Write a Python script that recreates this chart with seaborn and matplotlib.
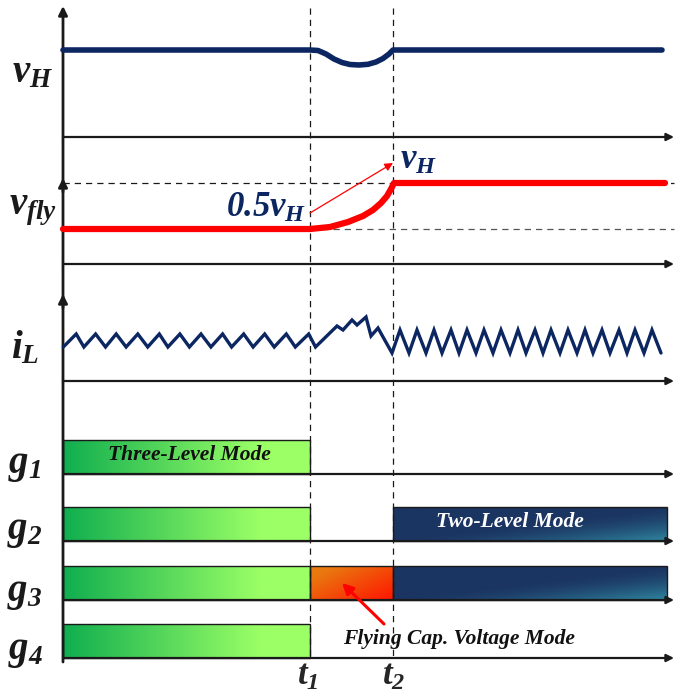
import numpy as np
import matplotlib
matplotlib.use("Agg")
import matplotlib.pyplot as plt
import seaborn as sns
import pandas as pd
from matplotlib.patches import Rectangle
from matplotlib.colors import to_rgb

# ---------------- data (diagram units) ----------------
t_origin = 63
t1, t2 = 310, 393
axis_end = 674
axis_top = 6

vh_t = [63, 310, 318, 326, 334, 342, 350, 359, 368, 376, 383, 389, 393, 662]
vh_v = [50, 50, 50.5, 54, 59, 62.5, 64.5, 65, 64.3, 62, 58.5, 54, 50, 50]

vfly_t = [63, 310, 330, 348, 363, 373, 381, 387, 391, 394, 665]
vfly_v = [229, 229, 227, 222, 216, 210, 203, 196, 189, 183, 183]
vfly_full, vfly_half = 183, 229

il_t = [63.3, 76.2, 83.9, 95.6, 105.5, 116.2, 126.1, 137.8, 147.7, 159.3, 167.9,
        179.9, 189.4, 201.0, 210.9, 222.6, 231.6, 243.7, 253.1, 264.7, 274.2,
        286.3, 295.3, 308.7, 315.5,
        337, 343, 352, 357, 366, 371, 378, 392,
        400, 409, 417, 426, 434, 442, 451, 459, 467, 476, 484, 493, 501, 510,
        518, 526, 535, 543, 551, 560, 568, 577, 585, 593, 602, 610, 619, 627,
        635, 644, 652, 661]
il_v = [347, 334, 347, 334, 347, 334, 347, 334, 347, 334, 347,
        334, 347, 334, 347, 334, 347, 334, 347, 334, 347,
        334, 347, 334, 347,
        326, 330, 320, 325, 317, 336, 328, 353,
        330, 353, 330, 353, 330, 353, 330, 353, 330, 353, 330, 353, 330, 353,
        330, 353, 330, 353, 330, 353, 330, 353, 330, 353, 330, 353, 330, 353,
        330, 353, 330, 353]

baselines = [137, 264, 381, 474, 541, 600, 658]   # vH, vfly, iL, g1..g4
up_arrows = [178, 294]

gate_base = [474, 541, 600, 658]
bar_h = 34
# (gate index, start, end, style)
bars = [(0, 63, 310, "green"), (1, 63, 310, "green"), (2, 63, 310, "green"),
        (3, 63, 310, "green"), (1, 393, 667, "navy"), (2, 310, 393, "orange"),
        (2, 393, 667, "navy")]

labels = [r"$v_H$", r"$v_{fly}$", r"$i_L$", r"$g_1$", r"$g_2$", r"$g_3$", r"$g_4$"]
label_y = [73, 210, 348, 466, 531, 593, 652]
label_x = [33, 33, 25, 25, 25, 25, 25]

navy = "#0b2661"

# ---------------- style ----------------
sns.set_theme(style="white")
plt.rcParams["font.family"] = ["Liberation Serif", "DejaVu Serif"]
plt.rcParams["mathtext.fontset"] = "custom"
plt.rcParams["mathtext.it"] = "Liberation Serif:bold:italic"
plt.rcParams["mathtext.rm"] = "Liberation Serif:bold:italic"
plt.rcParams["mathtext.bf"] = "Liberation Serif:bold:italic"

fig = plt.figure(figsize=(6.75, 6.93), dpi=100)
ax = fig.add_axes([0, 0, 1, 1])
ax.axis("off")


def gradient(kind, nx=200, ny=40):
    u = np.linspace(0, 1, nx)[None, :].repeat(ny, 0)
    v = np.linspace(0, 1, ny)[:, None].repeat(nx, 1)
    if kind == "green":
        c0, c1 = np.array(to_rgb("#10ae4f")), np.array(to_rgb("#9bff66"))
        f = np.clip(u / 0.8, 0, 1)
    elif kind == "navy":
        c0, c1 = np.array(to_rgb("#1b3562")), np.array(to_rgb("#2f86a0"))
        f = np.clip((0.5 * u + 0.5 * v - 0.5) / 0.5, 0, 1) ** 1.5
    else:
        c0, c1 = np.array(to_rgb("#e97a10")), np.array(to_rgb("#ff1500"))
        f = np.clip((0.55 * u + 0.45 * v - 0.15) / 0.85, 0, 1)
    return c0 + (c1 - c0) * f[..., None]


for g, x0, x1, kind in bars:
    yb = gate_base[g]
    yt = yb - bar_h
    ax.imshow(gradient(kind), extent=(x0, x1, yb, yt), aspect="auto",
              interpolation="bilinear", zorder=1)
    ax.add_patch(Rectangle((x0, yt), x1 - x0, bar_h, fill=False,
                           ec="#1a1a1a", lw=1.0, zorder=2))

# dashed guides
for tx in (t1, t2):
    ax.plot([tx, tx], [8, 660], color="k", lw=0.9, ls=(0, (5, 4)), zorder=3)
ax.plot([t_origin, axis_end], [vfly_full, vfly_full], color="k", lw=0.9,
        ls=(0, (5, 4)), zorder=3)
ax.plot([t_origin, axis_end], [vfly_half, vfly_half], color="#555555", lw=0.9,
        ls=(0, (5, 4)), zorder=3)

# axes (baselines with arrow)
for yb in baselines:
    ax.annotate("", xy=(axis_end, yb), xytext=(t_origin, yb),
                arrowprops=dict(arrowstyle="-|>", lw=1.6, color="k",
                                mutation_scale=11, shrinkA=0, shrinkB=0), zorder=5)
ax.annotate("", xy=(t_origin, axis_top), xytext=(t_origin, 662),
            arrowprops=dict(arrowstyle="-|>", lw=2.0, color="k",
                            mutation_scale=13, shrinkA=0, shrinkB=0), zorder=5)
for ya in up_arrows:
    ax.annotate("", xy=(t_origin, ya), xytext=(t_origin, ya + 14),
                arrowprops=dict(arrowstyle="-|>", lw=2.0, color="k",
                                mutation_scale=13, shrinkA=0, shrinkB=0), zorder=5)

# signals
df_vh = pd.DataFrame({"t": vh_t, "v": vh_v})
df_vf = pd.DataFrame({"t": vfly_t, "v": vfly_v})
df_il = pd.DataFrame({"t": il_t, "v": il_v})
sns.lineplot(data=df_vh, x="t", y="v", ax=ax, sort=False, estimator=None,
             color=navy, lw=4.0, solid_capstyle="round", zorder=6)
sns.lineplot(data=df_vf, x="t", y="v", ax=ax, sort=False, estimator=None,
             color="#ff0000", lw=4.5, solid_capstyle="round", zorder=6)
sns.lineplot(data=df_il, x="t", y="v", ax=ax, sort=False, estimator=None,
             color=navy, lw=2.4, solid_joinstyle="miter", zorder=6)

# annotations in vfly panel
ax.annotate("", xy=(393, 163), xytext=(310, 213),
            arrowprops=dict(arrowstyle="-|>", lw=0.9, color="#ff0000",
                            mutation_scale=12, shrinkA=0, shrinkB=0), zorder=7)
ax.text(306, 208, r"$0.5v_H$", color=navy, fontsize=25, ha="right", va="center", zorder=7)
ax.text(400, 160, r"$v_H$", color=navy, fontsize=25, ha="left", va="center", zorder=7)

# left labels
for lab, lx, ly in zip(labels, label_x, label_y):
    ax.text(lx, ly, lab, fontsize=28, color="k", ha="center", va="center")
ax.text(t1 - 2, 676, r"$t_1$", fontsize=25, ha="center", va="center")
ax.text(t2 + 1, 676, r"$t_2$", fontsize=25, ha="center", va="center")

# mode texts
mode_font = dict(family="Liberation Serif", fontweight="bold", fontstyle="italic",
                 fontsize=15.5, ha="center", va="center", zorder=8)
ax.text(189, 455, "Three-Level Mode", color="#111111", **mode_font)
ax.text(510, 522, "Two-Level Mode", color="white", **mode_font)
ax.text(459, 639, "Flying Cap. Voltage Mode", color="#111111", **mode_font)
ax.annotate("", xy=(342, 583), xytext=(384, 624),
            arrowprops=dict(arrowstyle="-|>", lw=2.2, color="#ff0000",
                            mutation_scale=16, shrinkA=0, shrinkB=0), zorder=8)

ax.set_xlim(0, 675)
ax.set_ylim(693, 0)
fig.savefig("out.png", dpi=100)
